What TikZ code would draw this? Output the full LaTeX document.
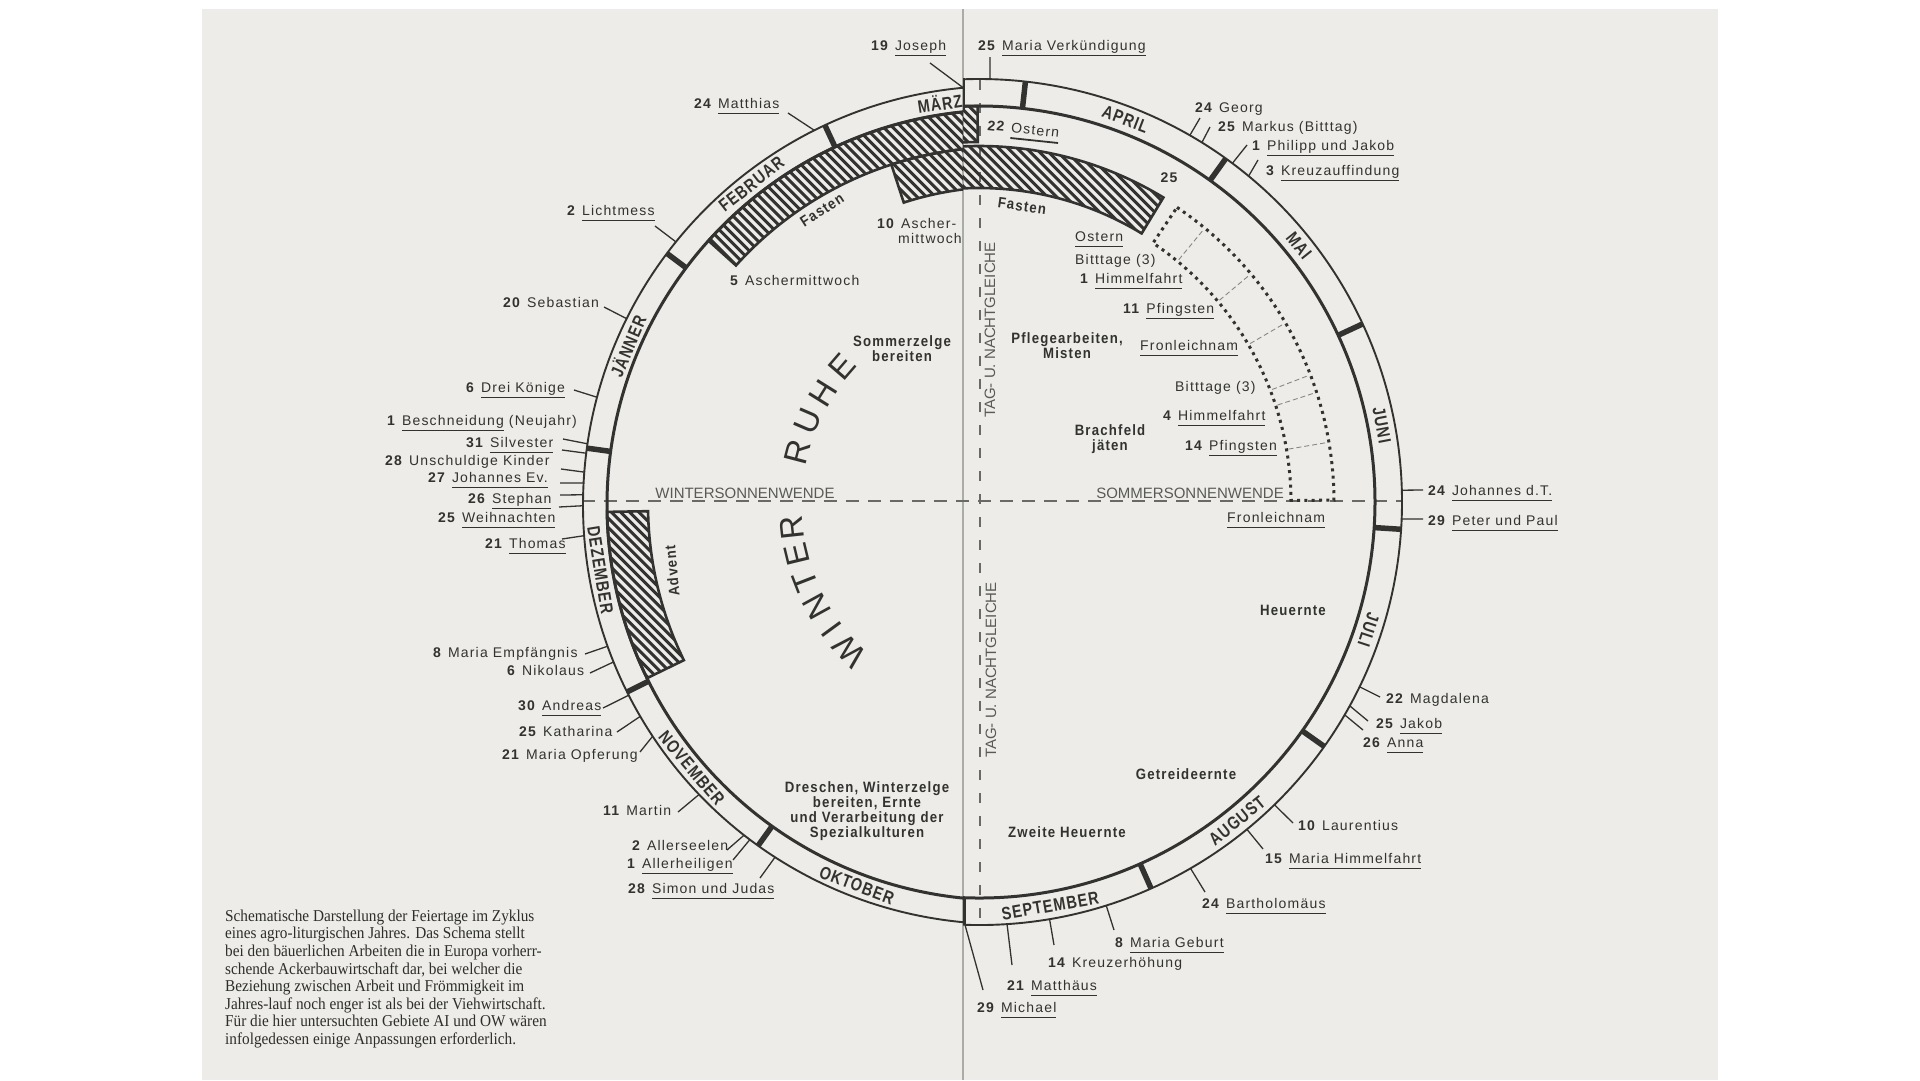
\documentclass[tikz,border=0pt]{standalone}
\usepackage{fontspec}
\usetikzlibrary{calc}
\newfontfamily\labfont[LetterSpace=8.5]{Liberation Sans}
\newfontfamily\actfont[LetterSpace=8,FakeStretch=0.88]{Liberation Sans}
\newfontfamily\monfont[LetterSpace=6,FakeStretch=0.8]{Liberation Sans}
\newfontfamily\solfont{Liberation Sans}
\newfontfamily\wrfont{Liberation Sans}
\newfontfamily\capfont[FakeStretch=0.92]{Liberation Serif}
\definecolor{ink}{RGB}{50,50,48}
\definecolor{paper}{RGB}{237,236,232}
\definecolor{spinec}{RGB}{172,172,167}
\definecolor{dashc}{RGB}{105,105,102}
\newcommand\ul[1]{\setbox0\hbox{#1}\rlap{\rule[-6.4pt]{\wd0}{1.8pt}}\box0\relax}
\newcommand\mklead[5]{%
  \coordinate (#1a) at ($(#2)+(#3:#4)$);
  \coordinate (#1b) at (#5);
  \draw[leadl] (#1a) -- (#1b);}
\newcommand\dlab[4]{\node[dl] (#1) at (#2) {\textbf{#3}\hskip0.42em #4};}
% hatched band: #1 path, #2 xa, #3 xb, #4 ytop, #5 ybot
\newcommand\hatchband[5]{%
  \begin{scope}
    \clip #1;
    \pgfmathsetmacro\hH{#4-(#5)}%
    \pgfmathsetmacro\hxs{#2-\hH}%
    \pgfmathsetmacro\hxn{\hxs+9.2}%
    \foreach \xx in {\hxs,\hxn,...,#3}
      \draw[draw=ink, line width=3pt] (\xx,#4) -- ++(\hH,-\hH);
  \end{scope}
  \draw[bandedge] #1;}
\tikzset{
  leadl/.style={draw=ink, line width=1.3pt},
  outerl/.style={draw=ink, line width=1.9pt},
  innerl/.style={draw=ink, line width=3pt},
  divl/.style={draw=ink, line width=5.5pt},
  bandedge/.style={draw=ink, line width=2.6pt, line join=miter},
  dotband/.style={draw=ink, line width=3pt, dash pattern=on 3pt off 4.3pt},
  crossl/.style={draw=dashc!80, line width=0.9pt, dash pattern=on 5pt off 3pt},
  solst/.style={draw=dashc, line width=1.2pt, dash pattern=on 13pt off 9pt},
  equin/.style={draw=dashc, line width=1.2pt, dash pattern=on 10pt off 13pt},
  dl/.style={inner sep=0pt, anchor=base west, text=ink, font=\labfont\fontsize{14}{16}\selectfont},
  mon/.style={inner sep=0pt, text=ink, font=\monfont\bfseries\fontsize{18}{20}\selectfont},
  act/.style={inner sep=0pt, text=ink, align=center, font=\actfont\bfseries\fontsize{15}{15}\selectfont},
  sol/.style={inner sep=0pt, text=dashc!85!black, font=\solfont\fontsize{15}{16}\selectfont},
  wr/.style={inner sep=0pt, text=ink, font=\wrfont\fontsize{33}{35}\selectfont},
}
\begin{document}
\begin{tikzpicture}[x=1pt,y=1pt]
\useasboundingbox (0,0) rectangle (1920,-1080);
\fill[white] (0,0) rectangle (1920,-1080);
\fill[paper] (202,-9) rectangle (1718,-1080);
\draw[spinec, line width=1.5pt] (963,-9) -- (963,-1080);

\coordinate (CL) at (1002,-505);
\coordinate (CR) at (979,-502);

% solstice / equinox axes
\coordinate (hl) at (582,-501);
\coordinate (hr) at (1402,-501);
\coordinate (vt) at (980,-80);
\coordinate (vb) at (980,-925);
\draw[solst] (hl) -- (hr);
\draw[equin] (vt) -- (vb);

% ---------- left page ----------
\begin{scope}
\clip (0,0) rectangle (963,-1080);
\hatchband{($(CL)+(138:395)$) arc[start angle=138,end angle=86,radius=395] -- ($(CL)+(86:358)$) arc[start angle=86,end angle=138,radius=358] -- cycle}{700}{1035}{-100}{-275}
\hatchband{($(CL)+(108:358)$) arc[start angle=108,end angle=86,radius=358] -- ($(CL)+(86:318)$) arc[start angle=86,end angle=108,radius=318] -- cycle}{880}{1035}{-140}{-215}
\hatchband{($(CL)+(181:395)$) arc[start angle=181,end angle=206,radius=395] -- ($(CL)+(206:354)$) arc[start angle=206,end angle=181,radius=354] -- cycle}{598}{692}{-500}{-692}
\draw[outerl] ($(CL)+(88:419)$) arc[start angle=88,end angle=272,radius=419];
\draw[innerl] ($(CL)+(88:395)$) arc[start angle=88,end angle=272,radius=395];
\foreach \a in {115,143.1,172.2,206.5,234.4}
  \draw[divl] ($(CL)+(\a:395)$) -- ($(CL)+(\a:419)$);
\end{scope}

% ---------- right page ----------
\begin{scope}
\clip (963,0) rectangle (1920,-1080);
\hatchband{($(CR)+(96:396)$) arc[start angle=96,end angle=90.2,radius=396] -- ($(CR)+(90.2:360)$) arc[start angle=90.2,end angle=96,radius=360] -- cycle}{930}{990}{-95}{-150}
\hatchband{($(CR)+(96:356)$) arc[start angle=96,end angle=58.8,radius=356] -- ($(CR)+(58.8:314)$) arc[start angle=58.8,end angle=96,radius=314] -- cycle}{930}{1175}{-135}{-245}
\draw[outerl] ($(CR)+(-94:423)$) arc[start angle=-94,end angle=94,radius=423];
\draw[innerl] ($(CR)+(-94:396)$) arc[start angle=-94,end angle=94,radius=396];
\foreach \a in {83.7,54.3,24.9,-3.7,-35.3,-66}
  \draw[divl] ($(CR)+(\a:396)$) -- ($(CR)+(\a:423)$);
\end{scope}
\draw[ink, line width=2.5pt] (964,-78) -- (964,-112);
\draw[ink, line width=3pt] (964,-897) -- (964,-924);

% dotted band (Ostern .. Pfingsten range)
\draw[dotband] ($(CR)+(56.1:355)$) arc[start angle=56.1,end angle=0.3,radius=355] -- ($(CR)+(0.3:312)$) arc[start angle=0.3,end angle=56.1,radius=312] -- cycle;
\foreach \a in {50.5,40,30.3,21,18,9.7}
  \draw[crossl] ($(CR)+(\a:314)$) -- ($(CR)+(\a:354)$);

% ---------- month names ----------
\node[mon, rotate=8.8]   (maerz) at ($(CL)+(98.8:407)$) {MÄRZ};
\node[mon, rotate=38]    (febr)  at ($(CL)+(128:407)$) {FEBRUAR};
\node[mon, rotate=67]    (jaen)  at ($(CL)+(157:407)$) {JÄNNER};
\node[mon, rotate=-80.8] (dez)   at ($(CL)+(189.2:407)$) {DEZEMBER};
\node[mon, rotate=-49.7] (nov)   at ($(CL)+(220.3:407)$) {NOVEMBER};
\node[mon, rotate=-20.9] (okt)   at ($(CL)+(249.1:407)$) {OKTOBER};
\node[mon, rotate=-20.9] (apr)   at ($(CR)+(69.1:410)$) {APRIL};
\node[mon, rotate=-51.3] (mai)   at ($(CR)+(38.7:410)$) {MAI};
\node[mon, rotate=-79.2] (jun)   at ($(CR)+(10.8:410)$) {JUNI};
\node[mon, rotate=-108.2](jul)   at ($(CR)+(-18.2:410)$) {JULI};
\node[mon, rotate=39]    (aug)   at ($(CR)+(-51:410)$) {AUGUST};
\node[mon, rotate=10]    (sep)   at ($(CR)+(-80:410)$) {SEPTEMBER};

% ---------- feast days, left ----------
\mklead{joseph}{CL}{95.3}{419}{930,-63}      \dlab{joseph}{871,-50}{19}{\ul{Joseph}}
\mklead{matth}{CL}{116.6}{419}{788,-113}     \dlab{matth}{694,-108}{24}{\ul{Matthias}}
\mklead{licht}{CL}{141.1}{419}{655,-226}     \dlab{licht}{567,-215}{2}{\ul{Lichtmess}}
\mklead{sebast}{CL}{153.6}{419}{604,-307}    \dlab{sebast}{503,-307}{20}{Sebastian}
\mklead{dreik}{CL}{165.1}{419}{574,-390}     \dlab{dreik}{466,-392}{6}{\ul{Drei Könige}}
\mklead{neuj}{CL}{171.6}{419}{563,-439}      \dlab{neuj}{387,-425}{1}{\ul{Beschneidung} (Neujahr)}
\mklead{silv}{CL}{172.9}{419}{562,-450}      \dlab{silv}{466,-447}{31}{\ul{Silvester}}
\mklead{unsch}{CL}{175.5}{419}{561,-469}     \dlab{unsch}{385,-465}{28}{Unschuldige Kinder}
\mklead{johev}{CL}{177}{419}{560,-483}       \dlab{johev}{428,-482}{27}{\ul{Johannes Ev.}}
\mklead{steph}{CL}{178.6}{419}{560,-495}     \dlab{steph}{468,-503}{26}{\ul{Stephan}}
\mklead{weihn}{CL}{180.1}{419}{559,-507}     \dlab{weihn}{438,-522}{25}{\ul{Weihnachten}}
\mklead{thom}{CL}{184.2}{419}{562,-539}      \dlab{thom}{485,-548}{21}{\ul{Thomas}}
\mklead{empf}{CL}{199.7}{419}{585,-654}      \dlab{empf}{433,-657}{8}{Maria Empfängnis}
\mklead{nikol}{CL}{202}{419}{590,-673}       \dlab{nikol}{507,-675}{6}{Nikolaus}
\mklead{andr}{CL}{207}{419}{603,-708}        \dlab{andr}{518,-710}{30}{\ul{Andreas}}
\mklead{kath}{CL}{210.3}{419}{617,-732}      \dlab{kath}{519,-736}{25}{Katharina}
\mklead{opfer}{CL}{213.5}{419}{640,-752}     \dlab{opfer}{502,-759}{21}{Maria Opferung}
\mklead{mart}{CL}{223.7}{419}{678,-812}      \dlab{mart}{603,-815}{11}{Martin}
\mklead{allers}{CL}{232}{419}{727,-850}      \dlab{allers}{632,-850}{2}{Allerseelen}
\mklead{allerh}{CL}{233}{419}{733,-860}      \dlab{allerh}{627,-868}{1}{\ul{Allerheiligen}}
\mklead{simon}{CL}{237.2}{419}{760,-878}     \dlab{simon}{628,-893}{28}{\ul{Simon und Judas}}

% ---------- feast days, right ----------
\mklead{verk}{CR}{88.5}{423}{990,-57}        \dlab{verk}{978,-50}{25}{\ul{Maria Verkündigung}}
\mklead{georg}{CR}{60.1}{423}{1200,-118}     \dlab{georg}{1195,-112}{24}{Georg}
\mklead{markus}{CR}{58.2}{423}{1210,-127}    \dlab{markus}{1218,-131}{25}{Markus (Bitttag)}
\mklead{phil}{CR}{53.2}{423}{1247,-145}      \dlab{phil}{1252,-150}{1}{\ul{Philipp und Jakob}}
\mklead{kreuzf}{CR}{50.4}{423}{1258,-160}    \dlab{kreuzf}{1266,-175}{3}{\ul{Kreuzauffindung}}
\mklead{johdt}{CR}{1.6}{423}{1423,-490}      \dlab{johdt}{1428,-495}{24}{\ul{Johannes d.T.}}
\mklead{peter}{CR}{-2.3}{423}{1423,-519}     \dlab{peter}{1428,-525}{29}{\ul{Peter und Paul}}
\mklead{magd}{CR}{-25.9}{423}{1380,-697}     \dlab{magd}{1386,-703}{22}{Magdalena}
\mklead{jakob}{CR}{-28.8}{423}{1368,-721}    \dlab{jakob}{1376,-728}{25}{\ul{Jakob}}
\mklead{anna}{CR}{-30.2}{423}{1363,-730}     \dlab{anna}{1363,-747}{26}{\ul{Anna}}
\mklead{laur}{CR}{-45.7}{423}{1293,-823}     \dlab{laur}{1298,-830}{10}{Laurentius}
\mklead{mhimm}{CR}{-50.7}{423}{1263,-849}    \dlab{mhimm}{1265,-863}{15}{\ul{Maria Himmelfahrt}}
\mklead{barth}{CR}{-60}{423}{1205,-892}      \dlab{barth}{1202,-908}{24}{\ul{Bartholomäus}}
\mklead{mgeb}{CR}{-72.5}{423}{1114,-930}     \dlab{mgeb}{1115,-947}{8}{\ul{Maria Geburt}}
\mklead{kreuzh}{CR}{-80.4}{423}{1054,-945}   \dlab{kreuzh}{1048,-967}{14}{Kreuzerhöhung}
\mklead{matthae}{CR}{-86.2}{423}{1012,-965}  \dlab{matthae}{1007,-990}{21}{\ul{Matthäus}}
\mklead{mich}{CR}{-91.9}{423}{983,-990}      \dlab{mich}{977,-1012}{29}{\ul{Michael}}

% ---------- inner labels ----------
\dlab{asch5}{730,-285}{5}{Aschermittwoch}
\dlab{asch10}{877,-228}{10}{Ascher-}
\node[dl] (asch10b) at (898,-243) {mittwoch};
\node[dl, rotate=-6] (ost22) at (987,-130) {\textbf{22}\hskip0.42em\ul{Ostern}};
\node[dl, anchor=center, font=\labfont\bfseries\fontsize{14}{16}\selectfont] (n25) at (1169,-178) {25};
\node[dl] (ost) at (1075,-241) {\ul{Ostern}};
\node[dl] (bitt1) at (1075,-264) {Bitttage (3)};
\dlab{himm1}{1080,-283}{1}{\ul{Himmelfahrt}}
\dlab{pfing1}{1123,-313}{11}{\ul{Pfingsten}}
\node[dl] (fron1) at (1140,-350) {\ul{Fronleichnam}};
\node[dl] (bitt2) at (1175,-391) {Bitttage (3)};
\dlab{himm2}{1163,-420}{4}{\ul{Himmelfahrt}}
\dlab{pfing2}{1185,-450}{14}{\ul{Pfingsten}}
\node[dl] (fron2) at (1227,-522) {\ul{Fronleichnam}};

\node[act, rotate=33] (fastL) at (822,-210) {Fasten};
\node[act, rotate=-8] (fastR) at (1022,-206) {Fasten};
\node[act, rotate=95] (advent) at (672,-571) {Advent};
\node[act] (sommerz) at (902,-349) {Sommerzelge\\bereiten};
\node[act] (pflege) at (1067,-346) {Pflegearbeiten,\\Misten};
\node[act] (brach) at (1110,-439) {Brachfeld\\jäten};
\node[act] (heu) at (1293,-610) {Heuernte};
\node[act] (getr) at (1186,-774) {Getreideernte};
\node[act] (heu2) at (1067,-832) {Zweite Heuernte};
\node[act] (dresch) at (867,-811) {Dreschen, Winterzelge\\bereiten, Ernte\\und Verarbeitung der\\Spezialkulturen};

\node[sol] (wsw) at (745,-493) {WINTERSONNENWENDE};
\node[sol] (ssw) at (1190,-493) {SOMMERSONNENWENDE};
\node[sol, rotate=90] (tn1) at (990,-330) {TAG- U. NACHTGLEICHE};
\node[sol, rotate=90] (tn2) at (991,-670) {TAG- U. NACHTGLEICHE};

\foreach \a/\c [count=\i] in {223.7/W,216.2/I,208.7/N,201.2/T,193.6/E,186.1/R,165.4/R,156.7/U,148/H,139.2/E}
  \node[wr, rotate=\a-90] (wr\i) at ($(CL)+(\a:211)$) {\c};

% ---------- caption ----------
\node[inner sep=0pt, anchor=north west, align=left, text=ink!90!black, font=\capfont\fontsize{16.6}{17.6}\selectfont] (caption) at (225,-909.5)
{Schematische Darstellung der Feiertage im Zyklus\\
eines agro-liturgischen Jahres. Das Schema stellt\\
bei den bäuerlichen Arbeiten die in Europa vorherr-\\
schende Ackerbauwirtschaft dar, bei welcher die\\
Beziehung zwischen Arbeit und Frömmigkeit im\\
Jahres-lauf noch enger ist als bei der Viehwirtschaft.\\
Für die hier untersuchten Gebiete AI und OW wären\\
infolgedessen einige Anpassungen erforderlich.};
\end{tikzpicture}
\end{document}
